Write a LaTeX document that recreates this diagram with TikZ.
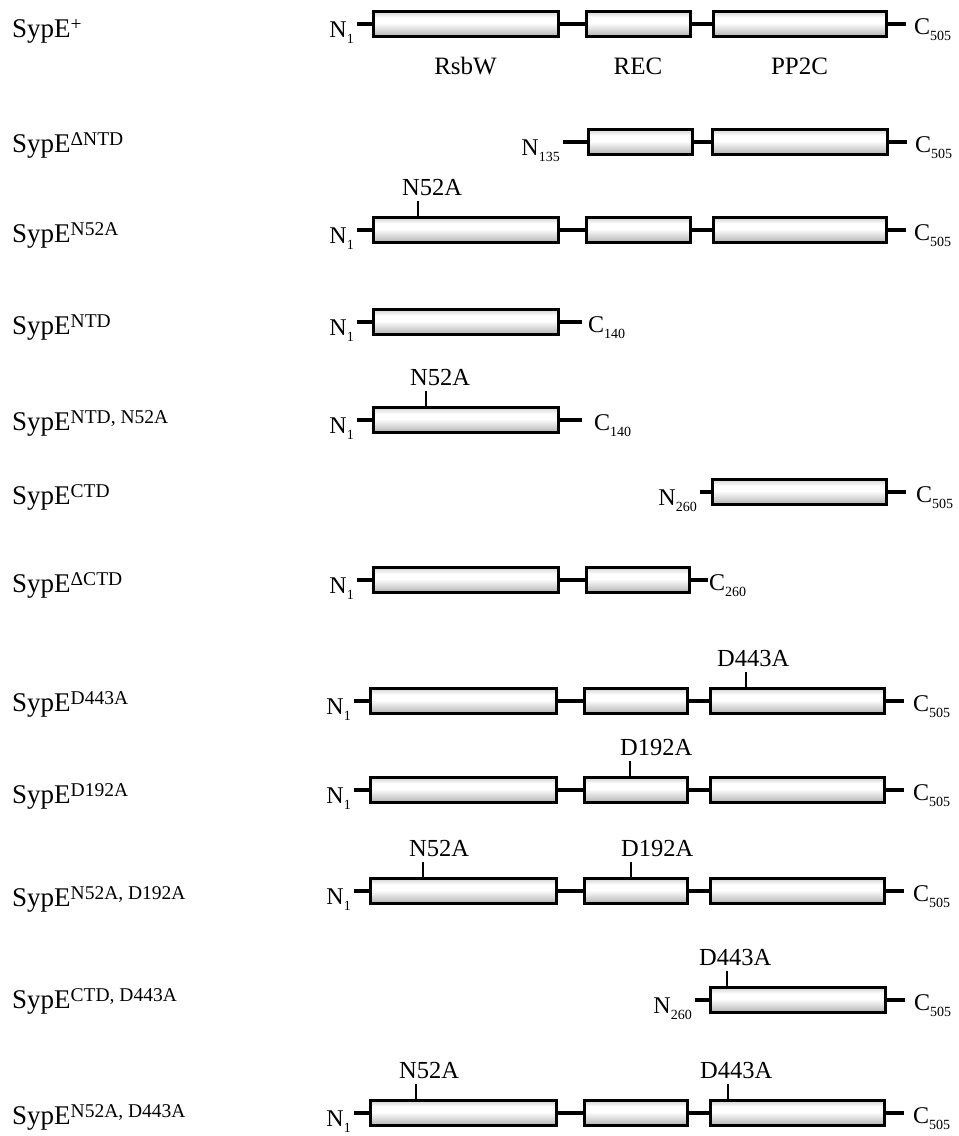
\documentclass[tikz,border=0pt]{standalone}
\usepackage{fontspec}
\setmainfont{Liberation Serif}
\pgfdeclareverticalshading{domshade}{100bp}{color(0bp)=(gray!60); color(25bp)=(gray!60); color(52bp)=(white); color(63bp)=(white); color(75bp)=(gray!35); color(100bp)=(gray!35)}
\tikzset{
 domainbox/.style={rectangle, draw, line width=3pt, shading=domshade, minimum height=25pt, inner sep=0pt, outer sep=0pt},
 linker/.style={line width=4pt},
 sitetick/.style={line width=2pt},
 termlabel/.style={inner sep=0pt, font=\fontsize{24}{24}\selectfont},
 sitelabel/.style={inner sep=0pt, anchor=base west, font=\fontsize{24.5}{25}\selectfont},
 rowlabel/.style={inner sep=0pt, anchor=base west, font=\fontsize{27}{28}\selectfont},
 domlabel/.style={inner sep=0pt, anchor=base, font=\fontsize{25}{26}\selectfont}
}
\newcommand{\idx}[1]{\raisebox{-6pt}{\fontsize{14}{14}\selectfont #1}}
\newcommand{\mutsup}[1]{\raisebox{7pt}{\fontsize{19.5}{20}\selectfont #1}}
\newcommand{\domain}[4]{%
 \node[domainbox, minimum width={#3-#2}] (#1) at ({(#2+#3)/2},{#4}) {};%
}
\newcommand{\link}[2]{%
 \draw[linker] (#1.east) -- (#2.west);%
}
\newcommand{\nterm}[4]{%
 \coordinate (#1e) at ([xshift=-#3pt]#2.west);%
 \draw[linker] (#1e) -- (#2.west);%
 \node[termlabel, anchor=base east] (#1) at ([xshift=-3pt, yshift=-13pt]#1e) {N\idx{#4}};%
}
\newcommand{\cterm}[5]{%
 \coordinate (#1e) at ([xshift=#3pt]#2.east);%
 \draw[linker] (#2.east) -- (#1e);%
 \node[termlabel, anchor=base west] (#1) at ([xshift=#4pt, yshift=-10pt]#1e) {C\idx{#5}};%
}
\newcommand{\site}[5]{%
 \coordinate (#1x) at (#3,0);%
 \coordinate (#1b) at (#1x |- #2.north);%
 \coordinate (#1a) at ([yshift=17pt]#1b);%
 \draw[sitetick] (#1b) -- (#1a);%
 \node[sitelabel] (#1) at ([xshift=-#4pt, yshift=5pt]#1a) {#5};%
}

\begin{document}
\begin{tikzpicture}[x=1pt, y=-1pt]
 \useasboundingbox (0,0) rectangle (959,1136);
 % SypE+
 \node[rowlabel] (lab1) at (12,37) {SypE\mutsup{+}};
 \domain{a1}{373}{558}{24} \domain{b1}{586}{690}{24} \domain{c1}{713}{886}{24}
 \link{a1}{b1} \link{b1}{c1}
 \nterm{n1}{a1}{16}{1} \cterm{k1}{c1}{20}{8}{505}
 \node[domlabel] (rsbw) at ([yshift=-50pt]a1.center) {RsbW};
 \node[domlabel] (rec) at ([yshift=-50pt]b1.center) {REC};
 \node[domlabel] (pp2c) at ([yshift=-50pt]c1.center) {PP2C};
 % delta NTD
 \node[rowlabel] (lab2) at (12,152) {SypE\mutsup{ΔNTD}};
 \domain{b2}{588}{692}{142} \domain{c2}{712}{887}{142}
 \link{b2}{c2}
 \nterm{n2}{b2}{25}{135} \cterm{k2}{c2}{20}{8}{505}
 % N52A
 \node[rowlabel] (lab3) at (12,242) {SypE\mutsup{N52A}};
 \domain{a3}{373}{558}{230} \domain{b3}{586}{690}{230} \domain{c3}{713}{886}{230}
 \link{a3}{b3} \link{b3}{c3}
 \nterm{n3}{a3}{16}{1} \cterm{k3}{c3}{20}{8}{505}
 \site{s3}{a3}{418}{16}{N52A}
 % NTD
 \node[rowlabel] (lab4) at (12,334) {SypE\mutsup{NTD}};
 \domain{a4}{373}{558}{322}
 \nterm{n4}{a4}{16}{1} \cterm{k4}{a4}{24}{6}{140}
 % NTD, N52A
 \node[rowlabel] (lab5) at (12,430) {SypE\mutsup{NTD, N52A}};
 \domain{a5}{373}{558}{420}
 \nterm{n5}{a5}{16}{1} \cterm{k5}{a5}{24}{12}{140}
 \site{s5}{a5}{426}{16}{N52A}
 % CTD
 \node[rowlabel] (lab6) at (12,504) {SypE\mutsup{CTD}};
 \domain{c6}{712}{886}{492}
 \nterm{n6}{c6}{12}{260} \cterm{k6}{c6}{20}{10}{505}
 % delta CTD
 \node[rowlabel] (lab7) at (12,592) {SypE\mutsup{ΔCTD}};
 \domain{a7}{373}{558}{580} \domain{b7}{586}{689}{580}
 \link{a7}{b7}
 \nterm{n7}{a7}{16}{1} \cterm{k7}{b7}{19}{1}{260}
 % D443A
 \node[rowlabel] (lab8) at (12,711) {SypE\mutsup{D443A}};
 \domain{a8}{370}{556}{701} \domain{b8}{584}{687}{701} \domain{c8}{710}{884}{701}
 \link{a8}{b8} \link{b8}{c8}
 \nterm{n8}{a8}{16}{1} \cterm{k8}{c8}{20}{9}{505}
 \site{s8}{c8}{746}{29}{D443A}
 % D192A
 \node[rowlabel] (lab9) at (12,803) {SypE\mutsup{D192A}};
 \domain{a9}{370}{556}{790} \domain{b9}{584}{687}{790} \domain{c9}{710}{884}{790}
 \link{a9}{b9} \link{b9}{c9}
 \nterm{n9}{a9}{16}{1} \cterm{k9}{c9}{20}{9}{505}
 \site{s9}{b9}{630}{10}{D192A}
 % N52A, D192A
 \node[rowlabel] (lab10) at (12,906) {SypE\mutsup{N52A, D192A}};
 \domain{a10}{370}{556}{891} \domain{b10}{584}{687}{891} \domain{c10}{710}{884}{891}
 \link{a10}{b10} \link{b10}{c10}
 \nterm{n10}{a10}{16}{1} \cterm{k10}{c10}{20}{9}{505}
 \site{s10}{a10}{423}{14}{N52A} \site{t10}{b10}{631}{10}{D192A}
 % CTD, D443A
 \node[rowlabel] (lab11) at (12,1008) {SypE\mutsup{CTD, D443A}};
 \domain{c11}{710}{885}{1000}
 \nterm{n11}{c11}{15}{260} \cterm{k11}{c11}{20}{9}{505}
 \site{s11}{c11}{727}{28}{D443A}
 % N52A, D443A
 \node[rowlabel] (lab12) at (12,1124) {SypE\mutsup{N52A, D443A}};
 \domain{a12}{370}{556}{1113} \domain{b12}{584}{687}{1113} \domain{c12}{710}{884}{1113}
 \link{a12}{b12} \link{b12}{c12}
 \nterm{n12}{a12}{16}{1} \cterm{k12}{c12}{20}{9}{505}
 \site{s12}{a12}{416}{17}{N52A} \site{t12}{c12}{728}{28}{D443A}
\end{tikzpicture}
\end{document}
